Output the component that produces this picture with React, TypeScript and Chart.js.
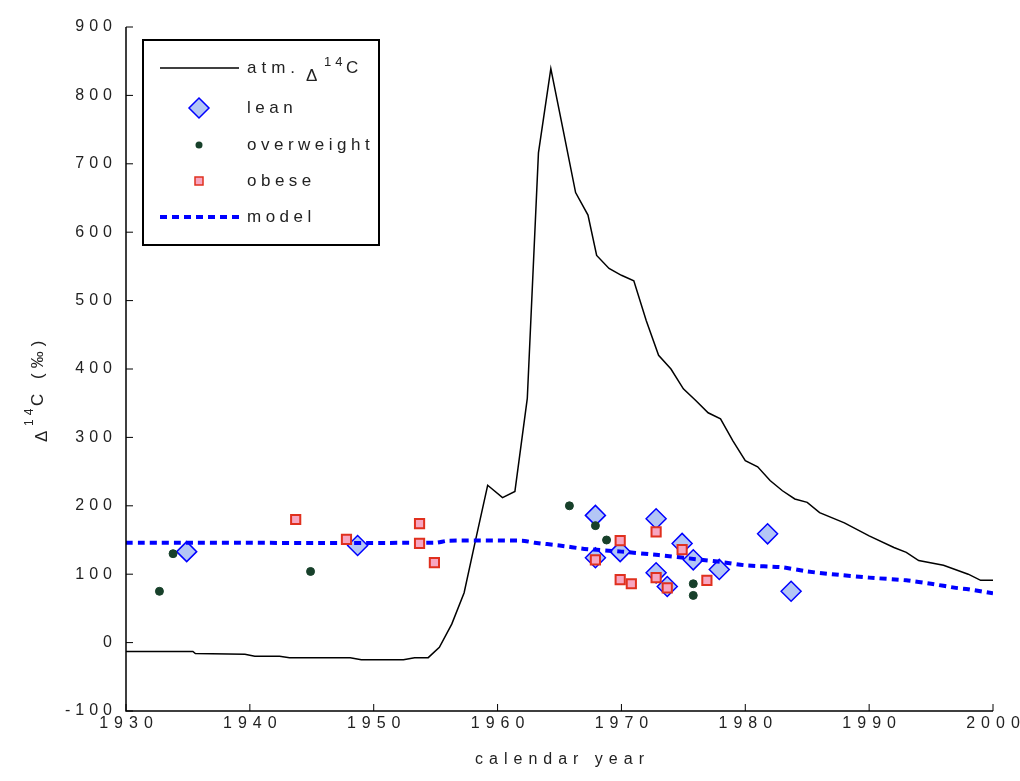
import React, { useEffect, useRef } from "react";
import Chart from "chart.js/auto";

const atmYears = [1930, 1935.4, 1935.6, 1939.6, 1940.4, 1942.4, 1943.2, 1948.1, 1949, 1952.4, 1953.3, 1954.4, 1955.3, 1956.3, 1957.3, 1958.2, 1959.2, 1960.4, 1961.4, 1962.4, 1963.3, 1964.3, 1965.3, 1966.3, 1967.3, 1968, 1969, 1970, 1971, 1972, 1973, 1974, 1975, 1976, 1977, 1978, 1979, 1980, 1981, 1982, 1983, 1984, 1985, 1986, 1988, 1990, 1992, 1993, 1994, 1996, 1998, 1999, 2000];
const atmValues = [-13, -13, -16, -17, -20, -20, -22, -22, -25, -25, -22, -22, -7, 27, 73, 148, 230, 212, 221, 357, 716, 839, 749, 658, 625, 566, 547, 537, 529, 471, 420, 400, 371, 354, 336, 327, 295, 266, 257, 237, 222, 210, 205, 190, 175, 156, 139, 132, 120, 113, 100, 91, 91];

const modelYears = [1930, 1955, 1956, 1962, 1963, 1965, 1967, 1970, 1973, 1976, 1978, 1980, 1983, 1985, 1987, 1990, 1993, 1995, 1997, 1998, 2000];
const modelValues = [146, 146, 149, 149, 146, 142, 137, 133, 128, 122, 118, 113, 110, 104, 100, 95, 91, 86, 80, 78, 72];

const leanYears = [1934.9, 1948.7, 1967.9, 1967.9, 1969.9, 1972.8, 1972.8, 1973.7, 1974.9, 1975.8, 1977.9, 1981.8, 1983.7];
const leanValues = [133, 142, 186, 124, 133, 181, 102, 82, 145, 121, 107, 159, 75];

const overYears = [1932.7, 1933.8, 1944.9, 1965.8, 1967.9, 1968.8, 1975.8, 1975.8];
const overValues = [75, 130, 104, 200, 171, 150, 86, 69];

const obeseYears = [1943.7, 1947.8, 1953.7, 1953.7, 1954.9, 1967.9, 1969.9, 1969.9, 1970.8, 1972.8, 1972.8, 1973.7, 1974.9, 1976.9];
const obeseValues = [180, 151, 174, 145, 117, 121, 149, 92, 86, 162, 95, 80, 136, 91];

const yTicks = [-100, 0, 100, 200, 300, 400, 500, 600, 700, 800, 900];
const xTicks = [1930, 1940, 1950, 1960, 1970, 1980, 1990, 2000];

const FONT = "'Liberation Sans', Arial, sans-serif";
const pts = (xs: number[], ys: number[]) => xs.map((x, i) => ({ x, y: ys[i] }));

const decor = {
  id: "decor",
  afterDraw(chart: any) {
    const { ctx, chartArea: a, scales } = chart;
    const sx = scales.x, sy = scales.y;
    ctx.save();
    ctx.strokeStyle = "#000";
    ctx.lineWidth = 1.5;
    ctx.beginPath();
    ctx.moveTo(a.left, a.top);
    ctx.lineTo(a.left, a.bottom);
    ctx.lineTo(a.right, a.bottom);
    ctx.stroke();
    ctx.lineWidth = 1;
    ctx.beginPath();
    yTicks.forEach((v) => {
      const y = sy.getPixelForValue(v);
      ctx.moveTo(a.left, y);
      ctx.lineTo(a.left + 7, y);
    });
    xTicks.forEach((v) => {
      const x = sx.getPixelForValue(v);
      ctx.moveTo(x, a.bottom);
      ctx.lineTo(x, a.bottom - 7);
    });
    ctx.stroke();
    ctx.fillStyle = "#222";
    ctx.font = `16px ${FONT}`;
    ctx.textAlign = "right";
    ctx.textBaseline = "middle";
    ctx.letterSpacing = "5px";
    yTicks.forEach((v) => ctx.fillText(String(v), a.left - 9, sy.getPixelForValue(v)));
    ctx.textAlign = "center";
    ctx.textBaseline = "top";
    ctx.letterSpacing = "6px";
    xTicks.forEach((v) => ctx.fillText(String(v), sx.getPixelForValue(v) + 3, a.bottom + 5));
    ctx.fillText("calendar year", (a.left + a.right) / 2 + 3, 752);
    // y title
    ctx.save();
    ctx.translate(38, 380);
    ctx.rotate(-Math.PI / 2);
    ctx.textAlign = "left";
    ctx.textBaseline = "middle";
    ctx.letterSpacing = "0px";
    ctx.font = `17px ${FONT}`;
    ctx.fillText("Δ", -62, 4);
    ctx.font = `12px ${FONT}`;
    ctx.letterSpacing = "4px";
    ctx.fillText("14", -46, -8);
    ctx.font = `17px ${FONT}`;
    ctx.letterSpacing = "5px";
    ctx.fillText("C (‰)", -26, 0);
    ctx.restore();
    // legend
    ctx.letterSpacing = "0px";
    const lx = 143, ly = 40, lw = 236, lh = 205;
    ctx.fillStyle = "#fff";
    ctx.fillRect(lx, ly, lw, lh);
    ctx.lineWidth = 2;
    ctx.strokeStyle = "#000";
    ctx.strokeRect(lx, ly, lw, lh);
    const rows = [68, 108, 145, 181, 217];
    ctx.lineWidth = 1.5;
    ctx.beginPath();
    ctx.moveTo(160, rows[0]);
    ctx.lineTo(239, rows[0]);
    ctx.stroke();
    ctx.beginPath();
    ctx.moveTo(199, rows[1] - 10);
    ctx.lineTo(209, rows[1]);
    ctx.lineTo(199, rows[1] + 10);
    ctx.lineTo(189, rows[1]);
    ctx.closePath();
    ctx.fillStyle = "#b3c6f5";
    ctx.fill();
    ctx.strokeStyle = "#0000ff";
    ctx.stroke();
    ctx.beginPath();
    ctx.arc(199, rows[2], 3.5, 0, Math.PI * 2);
    ctx.fillStyle = "#17402a";
    ctx.fill();
    ctx.fillStyle = "#f7a6c1";
    ctx.fillRect(195, rows[3] - 4, 8, 8);
    ctx.strokeStyle = "#e0301e";
    ctx.strokeRect(195, rows[3] - 4, 8, 8);
    ctx.strokeStyle = "#0000ff";
    ctx.lineWidth = 4;
    ctx.setLineDash([7, 5]);
    ctx.beginPath();
    ctx.moveTo(160, rows[4]);
    ctx.lineTo(239, rows[4]);
    ctx.stroke();
    ctx.setLineDash([]);
    ctx.fillStyle = "#222";
    ctx.textAlign = "left";
    ctx.textBaseline = "middle";
    ctx.font = `17px ${FONT}`;
    ctx.letterSpacing = "5px";
    ctx.fillText("atm.", 247, rows[0]);
    ctx.fillText("Δ", 306, rows[0] + 8);
    ctx.font = `13px ${FONT}`;
    ctx.letterSpacing = "4px";
    ctx.fillText("14", 324, rows[0] - 6);
    ctx.font = `17px ${FONT}`;
    ctx.fillText("C", 346, rows[0]);
    ctx.letterSpacing = "4.5px";
    ctx.fillText("lean", 247, rows[1]);
    ctx.fillText("overweight", 247, rows[2]);
    ctx.fillText("obese", 247, rows[3]);
    ctx.fillText("model", 247, rows[4]);
    ctx.restore();
  },
};

export default function App() {
  const canvasRef = useRef<HTMLCanvasElement>(null);

  useEffect(() => {
    document.body.style.margin = "0";
    if (!canvasRef.current) return;
    const chart = new Chart(canvasRef.current, {
      type: "scatter",
      data: {
        datasets: [
          { label: "obese", data: pts(obeseYears, obeseValues), pointStyle: "rect", pointRadius: 6.5, backgroundColor: "#f7a6c1", borderColor: "#e0301e", borderWidth: 2 },
          { label: "overweight", data: pts(overYears, overValues), pointStyle: "circle", pointRadius: 4, backgroundColor: "#17402a", borderColor: "#17402a" },
          { type: "line", label: "model", data: pts(modelYears, modelValues), borderColor: "#0000ff", borderWidth: 4, borderDash: [7, 5], pointRadius: 0, tension: 0.2 } as any,
          { label: "lean", data: pts(leanYears, leanValues), pointStyle: "rectRot", pointRadius: 10, backgroundColor: "#b3c6f5", borderColor: "#0000ff", borderWidth: 1.5 },
          { type: "line", label: "atm", data: pts(atmYears, atmValues), borderColor: "#000", borderWidth: 1.5, pointRadius: 0 } as any,
        ],
      },
      options: {
        responsive: false,
        animation: false,
        events: [],
        layout: { padding: { top: 27, right: 27, left: 0, bottom: 0 } },
        plugins: { legend: { display: false }, tooltip: { enabled: false } },
        scales: {
          x: {
            type: "linear", min: 1930, max: 2000,
            grid: { display: false }, border: { display: false }, ticks: { display: false },
            afterFit: (s: any) => { s.height = 70; },
          },
          y: {
            min: -100, max: 900,
            grid: { display: false }, border: { display: false }, ticks: { display: false },
            afterFit: (s: any) => { s.width = 126; },
          },
        },
      },
      plugins: [decor],
    });
    return () => chart.destroy();
  }, []);

  return <canvas ref={canvasRef} width={1020} height={781} style={{ display: "block" }} />;
}
